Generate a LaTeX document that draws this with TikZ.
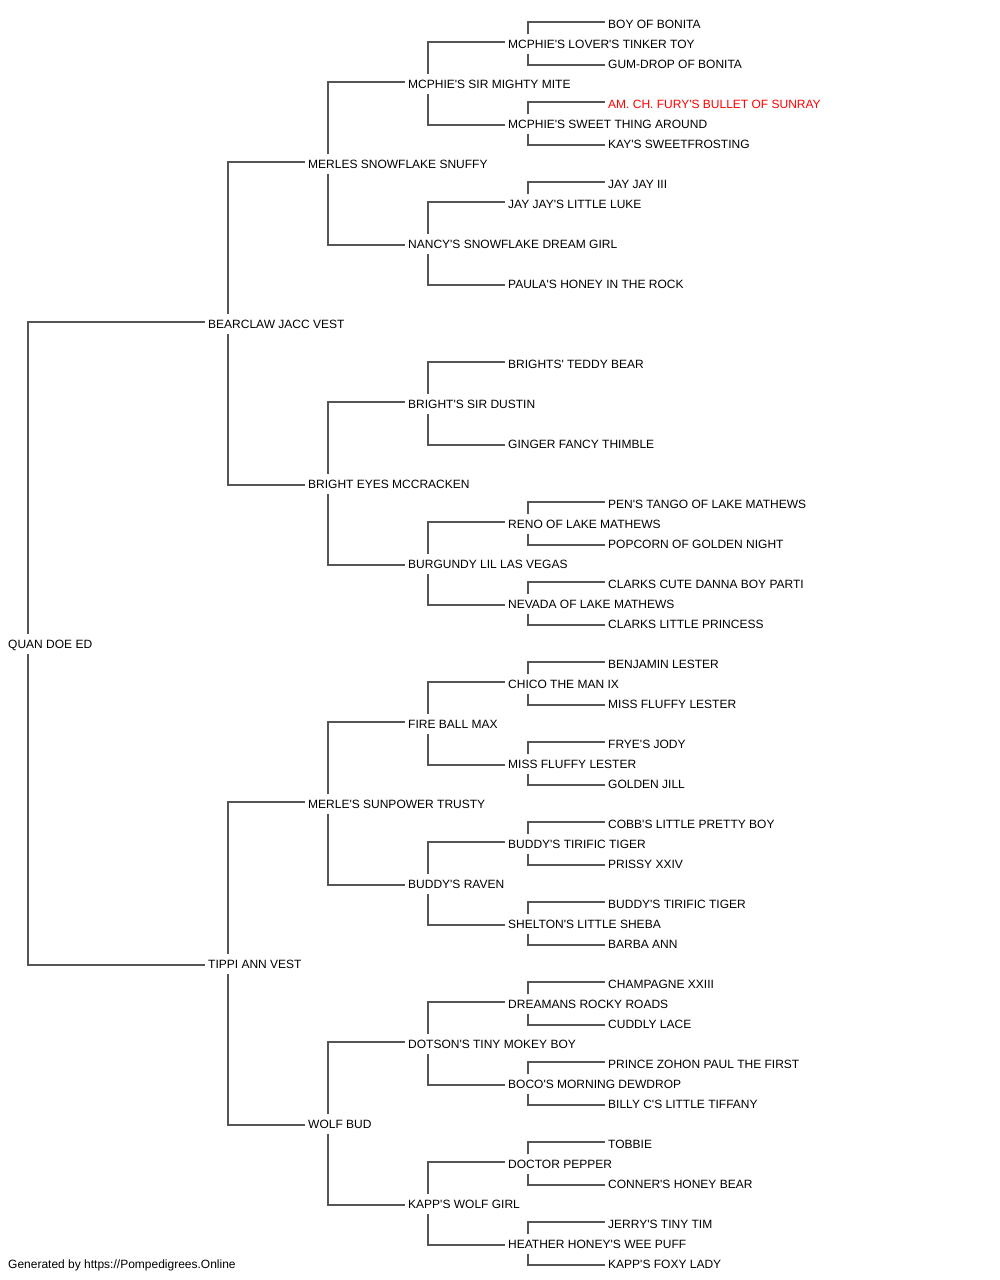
\documentclass[tikz,border=0pt]{standalone}
\usepackage{fontspec}
\setmainfont{Liberation Sans}[Ligatures=TeXOff]
\definecolor{pedred}{RGB}{255,0,0}
\definecolor{pedgray}{RGB}{85,85,85}
\begin{document}
\begin{tikzpicture}[x=1pt,y=-1pt,
  pn/.style={anchor=west,inner sep=0pt,text height=8.6pt,text depth=0pt,font=\fontsize{12}{14}\selectfont,text=black},
  hot/.style={pn,text=pedred},
  link/.style={draw=pedgray,line width=1.2pt}]
\useasboundingbox (0,0) rectangle (1000,1280);
\newcommand\pedup[2]{\draw[link] ([xshift=-3pt,yshift=2pt]#2.west) -| ([xshift=20pt,yshift=10pt]#1.west);}
\newcommand\peddown[2]{\draw[link] ([xshift=-3pt,yshift=-1pt]#2.west) -| ([xshift=20pt,yshift=-10pt]#1.west);}
% level 0
\node[pn] (q) at (8,644) {QUAN DOE ED};
% level 1
\node[pn] (a) at (208,324) {BEARCLAW JACC VEST};
\node[pn] (b) at (208,964) {TIPPI ANN VEST};
% level 2
\node[pn] (aa) at (308,164) {MERLES SNOWFLAKE SNUFFY};
\node[pn] (ab) at (308,484) {BRIGHT EYES MCCRACKEN};
\node[pn] (ba) at (308,804) {MERLE'S SUNPOWER TRUSTY};
\node[pn] (bb) at (308,1124) {WOLF BUD};
% level 3
\node[pn] (aaa) at (408,84) {MCPHIE'S SIR MIGHTY MITE};
\node[pn] (aab) at (408,244) {NANCY'S SNOWFLAKE DREAM GIRL};
\node[pn] (aba) at (408,404) {BRIGHT'S SIR DUSTIN};
\node[pn] (abb) at (408,564) {BURGUNDY LIL LAS VEGAS};
\node[pn] (baa) at (408,724) {FIRE BALL MAX};
\node[pn] (bab) at (408,884) {BUDDY'S RAVEN};
\node[pn] (bba) at (408,1044) {DOTSON'S TINY MOKEY BOY};
\node[pn] (bbb) at (408,1204) {KAPP'S WOLF GIRL};
% level 4
\node[pn] (aaaa) at (508,44) {MCPHIE'S LOVER'S TINKER TOY};
\node[pn] (aaab) at (508,124) {MCPHIE'S SWEET THING AROUND};
\node[pn] (aaba) at (508,204) {JAY JAY'S LITTLE LUKE};
\node[pn] (aabb) at (508,284) {PAULA'S HONEY IN THE ROCK};
\node[pn] (abaa) at (508,364) {BRIGHTS' TEDDY BEAR};
\node[pn] (abab) at (508,444) {GINGER FANCY THIMBLE};
\node[pn] (abba) at (508,524) {RENO OF LAKE MATHEWS};
\node[pn] (abbb) at (508,604) {NEVADA OF LAKE MATHEWS};
\node[pn] (baaa) at (508,684) {CHICO THE MAN IX};
\node[pn] (baab) at (508,764) {MISS FLUFFY LESTER};
\node[pn] (baba) at (508,844) {BUDDY'S TIRIFIC TIGER};
\node[pn] (babb) at (508,924) {SHELTON'S LITTLE SHEBA};
\node[pn] (bbaa) at (508,1004) {DREAMANS ROCKY ROADS};
\node[pn] (bbab) at (508,1084) {BOCO'S MORNING DEWDROP};
\node[pn] (bbba) at (508,1164) {DOCTOR PEPPER};
\node[pn] (bbbb) at (508,1244) {HEATHER HONEY'S WEE PUFF};
% level 5
\node[pn] (aaaaa) at (608,24) {BOY OF BONITA};
\node[pn] (aaaab) at (608,64) {GUM-DROP OF BONITA};
\node[hot] (aaaba) at (608,104) {AM. CH. FURY'S BULLET OF SUNRAY};
\node[pn] (aaabb) at (608,144) {KAY'S SWEETFROSTING};
\node[pn] (aabaa) at (608,184) {JAY JAY III};
\node[pn] (abbaa) at (608,504) {PEN'S TANGO OF LAKE MATHEWS};
\node[pn] (abbab) at (608,544) {POPCORN OF GOLDEN NIGHT};
\node[pn] (abbba) at (608,584) {CLARKS CUTE DANNA BOY PARTI};
\node[pn] (abbbb) at (608,624) {CLARKS LITTLE PRINCESS};
\node[pn] (baaaa) at (608,664) {BENJAMIN LESTER};
\node[pn] (baaab) at (608,704) {MISS FLUFFY LESTER};
\node[pn] (baaba) at (608,744) {FRYE'S JODY};
\node[pn] (baabb) at (608,784) {GOLDEN JILL};
\node[pn] (babaa) at (608,824) {COBB'S LITTLE PRETTY BOY};
\node[pn] (babab) at (608,864) {PRISSY XXIV};
\node[pn] (babba) at (608,904) {BUDDY'S TIRIFIC TIGER};
\node[pn] (babbb) at (608,944) {BARBA ANN};
\node[pn] (bbaaa) at (608,984) {CHAMPAGNE XXIII};
\node[pn] (bbaab) at (608,1024) {CUDDLY LACE};
\node[pn] (bbaba) at (608,1064) {PRINCE ZOHON PAUL THE FIRST};
\node[pn] (bbabb) at (608,1104) {BILLY C'S LITTLE TIFFANY};
\node[pn] (bbbaa) at (608,1144) {TOBBIE};
\node[pn] (bbbab) at (608,1184) {CONNER'S HONEY BEAR};
\node[pn] (bbbba) at (608,1224) {JERRY'S TINY TIM};
\node[pn] (bbbbb) at (608,1264) {KAPP'S FOXY LADY};
% footer
\node[anchor=base west,inner sep=0pt,font=\fontsize{12}{14}\selectfont] (foot) at (8,1268.3) {Generated by https://Pompedigrees.Online};
% connectors
\pedup{q}{a} \peddown{q}{b}
\pedup{a}{aa} \peddown{a}{ab}
\pedup{b}{ba} \peddown{b}{bb}
\pedup{aa}{aaa} \peddown{aa}{aab}
\pedup{ab}{aba} \peddown{ab}{abb}
\pedup{ba}{baa} \peddown{ba}{bab}
\pedup{bb}{bba} \peddown{bb}{bbb}
\pedup{aaa}{aaaa} \peddown{aaa}{aaab}
\pedup{aab}{aaba} \peddown{aab}{aabb}
\pedup{aba}{abaa} \peddown{aba}{abab}
\pedup{abb}{abba} \peddown{abb}{abbb}
\pedup{baa}{baaa} \peddown{baa}{baab}
\pedup{bab}{baba} \peddown{bab}{babb}
\pedup{bba}{bbaa} \peddown{bba}{bbab}
\pedup{bbb}{bbba} \peddown{bbb}{bbbb}
\pedup{aaaa}{aaaaa} \peddown{aaaa}{aaaab}
\pedup{aaab}{aaaba} \peddown{aaab}{aaabb}
\pedup{aaba}{aabaa}
\pedup{abba}{abbaa} \peddown{abba}{abbab}
\pedup{abbb}{abbba} \peddown{abbb}{abbbb}
\pedup{baaa}{baaaa} \peddown{baaa}{baaab}
\pedup{baab}{baaba} \peddown{baab}{baabb}
\pedup{baba}{babaa} \peddown{baba}{babab}
\pedup{babb}{babba} \peddown{babb}{babbb}
\pedup{bbaa}{bbaaa} \peddown{bbaa}{bbaab}
\pedup{bbab}{bbaba} \peddown{bbab}{bbabb}
\pedup{bbba}{bbbaa} \peddown{bbba}{bbbab}
\pedup{bbbb}{bbbba} \peddown{bbbb}{bbbbb}
\end{tikzpicture}
\end{document}
